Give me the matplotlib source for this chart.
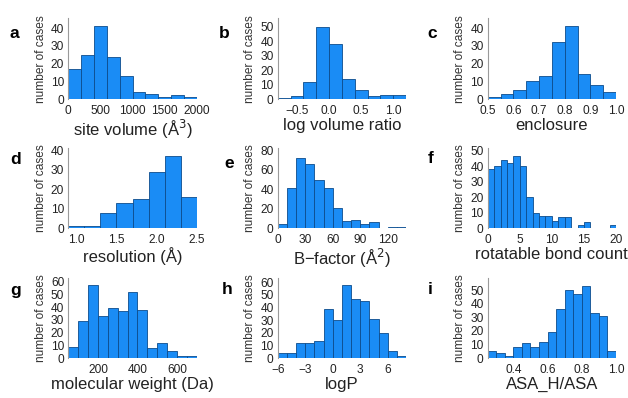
import matplotlib
matplotlib.use("Agg")
import matplotlib.pyplot as plt
import numpy as np

plt.rcParams['font.family'] = ['Liberation Sans', 'DejaVu Sans']
plt.rcParams['axes.unicode_minus'] = True

# ---------------- data (histogram bin edges and counts) ----------------
a_edges = [0, 200, 400, 600, 800, 1000, 1200, 1400, 1600, 1800, 2000]
a_counts = [17, 25, 41, 24, 13, 4, 3, 1, 2, 1]

b_edges = [-0.8, -0.6, -0.4, -0.2, 0.0, 0.2, 0.4, 0.6, 0.8, 1.0, 1.2]
b_counts = [1, 2, 12, 50, 38, 14, 6, 2, 3, 3]

c_edges = [0.50, 0.55, 0.60, 0.65, 0.70, 0.75, 0.80, 0.85, 0.90, 0.95, 1.00]
c_counts = [1, 3, 5, 10, 13, 32, 41, 14, 8, 4]

d_edges = [0.9, 1.1, 1.3, 1.5, 1.7, 1.9, 2.1, 2.3, 2.5]
d_counts = [1, 1, 8, 13, 15, 29, 37, 16]

e_edges = [0, 10, 20, 30, 40, 50, 60, 70, 80, 90, 100, 110, 120, 130, 140]
e_counts = [4, 41, 72, 66, 50, 41, 21, 7, 9, 4, 6, 0, 1, 1]

f_edges = list(range(0, 21))
f_counts = [38, 40, 44, 42, 47, 40, 20, 10, 8, 8, 5, 7, 7, 0, 2, 4, 0, 0, 0, 2]

g_edges = [50, 100, 150, 200, 250, 300, 350, 400, 450, 500, 550, 600, 650, 700]
g_counts = [9, 29, 57, 33, 39, 37, 52, 38, 8, 12, 6, 2, 2]

h_edges = [-6, -5, -4, -3, -2, -1, 0, 1, 2, 3, 4, 5, 6, 7, 8]
h_counts = [4, 4, 12, 12, 14, 39, 30, 58, 47, 45, 31, 20, 6, 2]

i_edges = [0.25, 0.30, 0.35, 0.40, 0.45, 0.50, 0.55, 0.60, 0.65, 0.70,
           0.75, 0.80, 0.85, 0.90, 0.95, 1.00]
i_counts = [5, 4, 2, 8, 11, 8, 12, 19, 36, 50, 47, 53, 33, 31, 5]

letters = ['a', 'b', 'c', 'd', 'e', 'f', 'g', 'h', 'i']
xlabels = ['site volume (Å$^{3}$)', 'log volume ratio', 'enclosure',
           'resolution (Å)', 'B\u2212factor (Å$^{2}$)', 'rotatable bond count',
           'molecular weight (Da)', 'logP', 'ASA_H/ASA']
xticks = [[0, 500, 1000, 1500, 2000], [-0.5, 0.0, 0.5, 1.0],
          [0.5, 0.6, 0.7, 0.8, 0.9, 1.0], [1.0, 1.5, 2.0, 2.5],
          [0, 30, 60, 90, 120], [0, 5, 10, 15, 20], [200, 400, 600],
          [-6, -3, 0, 3, 6], [0.4, 0.6, 0.8, 1.0]]
xticklabels = [['0', '500', '1000', '1500', '2000'],
               ['\u22120.5', '0.0', '0.5', '1.0'],
               ['0.5', '0.6', '0.7', '0.8', '0.9', '1.0'],
               ['1.0', '1.5', '2.0', '2.5'],
               ['0', '30', '60', '90', '120'],
               ['0', '5', '10', '15', '20'],
               ['200', '400', '600'],
               ['\u22126', '\u22123', '0', '3', '6'],
               ['0.4', '0.6', '0.8', '1.0']]
yticks = [[0, 10, 20, 30, 40], [0, 10, 20, 30, 40, 50], [0, 10, 20, 30, 40],
          [0, 10, 20, 30, 40], [0, 20, 40, 60, 80], [0, 10, 20, 30, 40, 50],
          [0, 10, 20, 30, 40, 50, 60], [0, 10, 20, 30, 40, 50, 60],
          [0, 10, 20, 30, 40, 50]]
ytops = [45.6, 55.8, 45.6, 41, 82, 51.7, 62.6, 63, 58.6]

edges_all = [a_edges, b_edges, c_edges, d_edges, e_edges, f_edges,
             g_edges, h_edges, i_edges]
counts_all = [a_counts, b_counts, c_counts, d_counts, e_counts, f_counts,
              g_counts, h_counts, i_counts]

# ---------------- layout ----------------
W, H = 628, 398
fig = plt.figure(figsize=(W / 100, H / 100), dpi=100)

col_px = [(68.3, 196.7), (277.7, 406.0), (487.7, 616.0)]
row_px = [(18.3, 99.0), (148.3, 228.3), (278.3, 358.3)]
letter_px = [(10, 33), (219, 33), (427, 33),
             (10, 160), (224, 164), (428, 158),
             (10, 290), (222, 290), (428, 290)]

face = '#1a8cf5'
edge = '#0d4c8c'

for k in range(9):
    r, c = divmod(k, 3)
    x0, x1 = col_px[c]
    yt, yb = row_px[r]
    ax = fig.add_axes([x0 / W, 1 - yb / H, (x1 - x0) / W, (yb - yt) / H])
    e = np.asarray(edges_all[k], dtype=float)
    cnt = counts_all[k]
    ax.bar(e[:-1], cnt, width=np.diff(e), align='edge', color=face,
           edgecolor=edge, linewidth=0.6)
    ax.set_xlim(e[0], e[-1])
    ax.set_ylim(0, ytops[k])
    for s in ['top', 'right', 'bottom']:
        ax.spines[s].set_visible(False)
    ax.spines['left'].set_color('#9a9a9a')
    ax.spines['left'].set_linewidth(0.8)
    ax.set_xticks(xticks[k])
    ax.set_xticklabels(xticklabels[k])
    ax.set_yticks(yticks[k])
    ax.tick_params(axis='both', length=0, labelsize=8.6, colors='#222222')
    ax.tick_params(axis='x', pad=4)
    ax.tick_params(axis='y', pad=3)
    ax.set_xlabel(xlabels[k], fontsize=12, labelpad=1, color='#222222')
    ax.set_ylabel('number of cases', fontsize=8.6, labelpad=3, color='#333333')
    lx, ly = letter_px[k]
    fig.text(lx / W, 1 - ly / H, letters[k], fontsize=12.5, fontweight='bold',
             ha='left', va='center')

fig.savefig('out.png', dpi=100)
